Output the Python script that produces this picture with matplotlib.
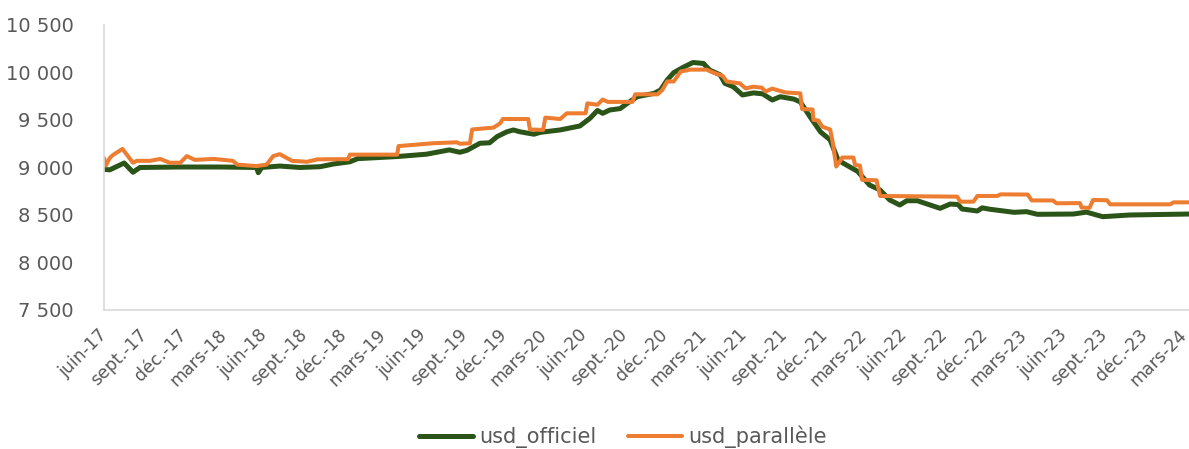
import numpy as np
import pandas as pd
import matplotlib
matplotlib.use("Agg")
import matplotlib.pyplot as plt
import matplotlib.transforms as mtransforms
from matplotlib.ticker import FuncFormatter

# usd_officiel
off_dates = ["2017-06-01", "2017-06-14", "2017-07-17", "2017-08-06", "2017-08-22", "2017-11-22",
             "2018-02-22", "2018-05-15", "2018-05-19", "2018-05-27", "2018-07-07", "2018-08-22",
             "2018-10-07", "2018-11-07", "2018-12-14", "2019-01-01", "2019-04-01", "2019-06-07",
             "2019-07-29", "2019-08-22", "2019-09-07", "2019-10-07", "2019-10-29", "2019-11-15",
             "2019-12-07", "2019-12-22", "2020-01-07", "2020-02-07", "2020-02-22", "2020-04-07",
             "2020-05-22", "2020-06-14", "2020-07-01", "2020-07-13", "2020-07-29", "2020-08-22",
             "2020-09-07", "2020-09-30", "2020-11-07", "2020-11-22", "2020-12-07", "2020-12-22",
             "2021-01-13", "2021-02-04", "2021-02-28", "2021-03-14", "2021-04-07", "2021-04-18",
             "2021-05-07", "2021-05-28", "2021-06-22", "2021-07-13", "2021-08-04", "2021-08-22",
             "2021-09-22", "2021-10-07", "2021-10-29", "2021-11-22", "2021-12-14", "2022-01-01",
             "2022-01-13", "2022-02-15", "2022-03-14", "2022-04-07", "2022-04-29", "2022-05-22",
             "2022-06-07", "2022-07-01", "2022-08-22", "2022-09-14", "2022-10-02", "2022-10-11",
             "2022-11-15", "2022-11-26", "2022-12-14", "2023-02-07", "2023-03-07", "2023-04-01",
             "2023-06-22", "2023-07-22", "2023-08-28", "2023-10-29", "2024-03-12"]
off_vals = [8980, 8975, 9047, 8950, 9000, 9005,
            9005, 9000, 8945, 9000, 9015, 9000,
            9008, 9037, 9060, 9093, 9115, 9140,
            9185, 9160, 9180, 9255, 9260, 9325,
            9375, 9395, 9375, 9350, 9370, 9395,
            9437, 9518, 9600, 9570, 9605, 9620,
            9675, 9745, 9780, 9815, 9920, 9998,
            10055, 10105, 10095, 10025, 9975, 9885,
            9850, 9763, 9785, 9775, 9710, 9745,
            9720, 9690, 9535, 9375, 9290, 9080,
            9045, 8958, 8815, 8763, 8658, 8605,
            8650, 8650, 8570, 8615, 8610, 8563,
            8542, 8575, 8560, 8528, 8535, 8507,
            8510, 8530, 8482, 8500, 8510]

# usd_parallèle
par_dates = ["2017-06-01", "2017-06-05", "2017-06-14", "2017-06-21", "2017-07-13", "2017-08-06",
             "2017-08-15", "2017-09-14", "2017-10-07", "2017-10-29", "2017-11-22", "2017-12-07",
             "2017-12-25", "2018-02-07", "2018-03-22", "2018-04-01", "2018-05-15", "2018-06-07",
             "2018-06-22", "2018-07-07", "2018-08-04", "2018-09-07", "2018-10-01", "2018-10-29",
             "2018-12-10", "2018-12-14", "2019-04-01", "2019-04-04", "2019-06-22", "2019-08-15",
             "2019-08-22", "2019-09-14", "2019-09-19", "2019-11-07", "2019-11-22", "2019-11-28",
             "2020-01-25", "2020-01-29", "2020-02-28", "2020-03-04", "2020-04-07", "2020-04-22",
             "2020-06-04", "2020-06-08", "2020-07-01", "2020-07-13", "2020-07-25", "2020-09-19",
             "2020-09-25", "2020-11-15", "2020-11-26", "2020-12-07", "2020-12-22", "2021-01-07",
             "2021-01-29", "2021-03-07", "2021-03-22", "2021-04-13", "2021-04-22", "2021-05-22",
             "2021-06-04", "2021-06-22", "2021-07-11", "2021-07-20", "2021-08-04", "2021-09-03",
             "2021-10-07", "2021-10-11", "2021-11-04", "2021-11-06", "2021-11-17", "2021-11-26",
             "2021-12-14", "2021-12-19", "2021-12-28", "2022-01-11", "2022-02-05", "2022-02-09",
             "2022-02-20", "2022-02-25", "2022-03-30", "2022-04-07", "2022-09-30", "2022-10-07",
             "2022-11-06", "2022-11-15", "2022-12-30", "2023-01-07", "2023-03-10", "2023-03-19",
             "2023-05-06", "2023-05-15", "2023-07-07", "2023-07-11", "2023-07-29", "2023-08-06",
             "2023-09-07", "2023-09-14", "2024-01-29", "2024-02-06", "2024-03-12"]
par_vals = [9100, 9020, 9100, 9130, 9195, 9050,
            9070, 9070, 9090, 9050, 9050, 9120,
            9080, 9090, 9070, 9030, 9015, 9030,
            9120, 9140, 9070, 9060, 9085, 9087,
            9087, 9135, 9135, 9225, 9255, 9265,
            9250, 9255, 9400, 9420, 9465, 9510,
            9510, 9400, 9395, 9525, 9510, 9570,
            9570, 9675, 9660, 9715, 9690, 9690,
            9770, 9770, 9815, 9905, 9905, 10010,
            10030, 10030, 10000, 9963, 9905, 9885,
            9833, 9850, 9840, 9800, 9830, 9790,
            9780, 9615, 9610, 9500, 9495, 9430,
            9400, 9290, 9010, 9105, 9105, 9025,
            9020, 8870, 8865, 8700, 8693, 8640,
            8640, 8700, 8700, 8717, 8715, 8653,
            8653, 8623, 8625, 8578, 8575, 8658,
            8655, 8612, 8612, 8633, 8633]

months_fr = {3: "mars", 6: "juin", 9: "sept.", 12: "déc."}
tick_dates = pd.date_range("2017-06-01", "2024-03-01", freq="3MS")
tick_labels = [f"{months_fr[d.month]}-{d.strftime('%y')}" for d in tick_dates]

plt.rcParams["font.family"] = "DejaVu Sans"
fig = plt.figure(figsize=(11.89, 4.49), dpi=100)
ax = fig.add_axes([0.0875, 0.3096, 0.9125, 0.6348])

ax.plot(pd.to_datetime(off_dates), off_vals, color="#2B5418", linewidth=3.6,
        label="usd_officiel", solid_capstyle="round", solid_joinstyle="round")
ax.plot(pd.to_datetime(par_dates), par_vals, color="#ED7D31", linewidth=2.9,
        label="usd_parallèle", solid_capstyle="round", solid_joinstyle="round")

ax.set_ylim(7500, 10500)
ax.set_yticks(np.arange(7500, 10501, 500))
ax.yaxis.set_major_formatter(FuncFormatter(lambda v, p: f"{v:,.0f}".replace(",", " ")))
ax.set_xlim(pd.Timestamp("2017-06-01"), pd.Timestamp("2024-03-12"))
ax.set_xticks(tick_dates)
ax.set_xticklabels(tick_labels, rotation=45, ha="right", va="center", rotation_mode="anchor")
shift = mtransforms.ScaledTranslation(4 / 72, 0, fig.dpi_scale_trans)
for lbl in ax.get_xticklabels():
    lbl.set_transform(lbl.get_transform() + shift)

for s in ["top", "right"]:
    ax.spines[s].set_visible(False)
for s in ["left", "bottom"]:
    ax.spines[s].set_color("#D9D9D9")
    ax.spines[s].set_linewidth(1.2)
ax.tick_params(axis="both", length=0, colors="#595959")
ax.tick_params(axis="y", pad=22, labelsize=14)
ax.tick_params(axis="x", pad=16, labelsize=12.5)

fig.legend(loc="center", bbox_to_anchor=(0.524, 0.027), ncol=2, frameon=False,
           fontsize=15, handlelength=2.6, handletextpad=0.3, columnspacing=1.5,
           labelcolor="#595959")

fig.savefig("out.png", dpi=100)
